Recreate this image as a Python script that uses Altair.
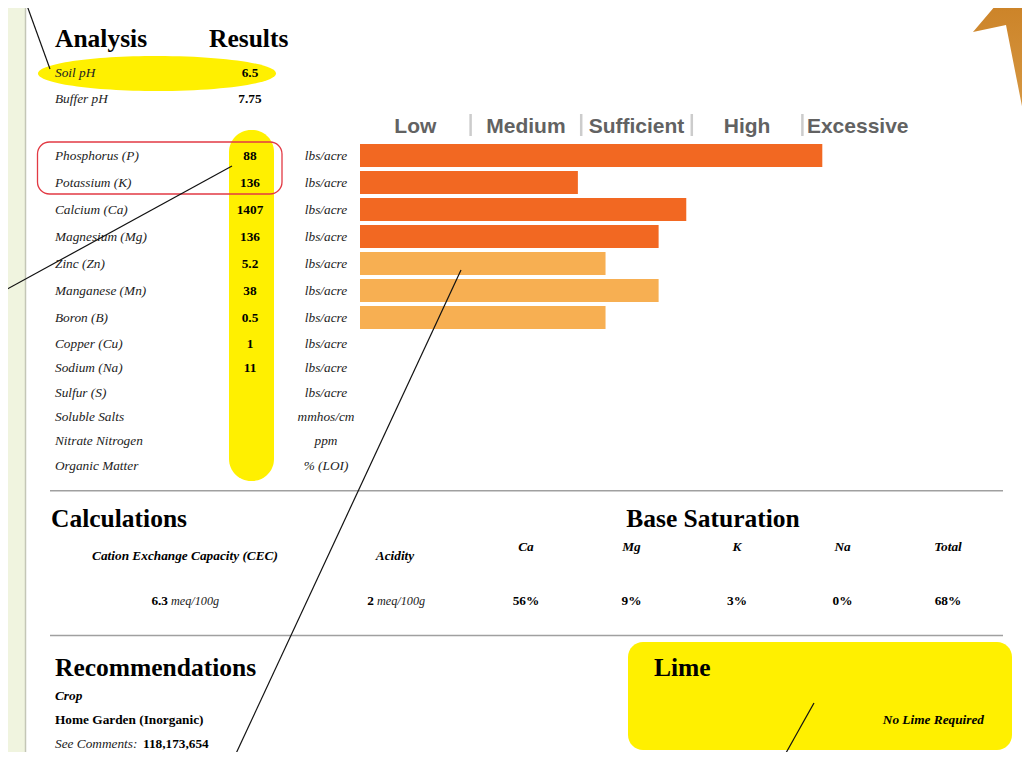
import altair as alt
import pandas as pd

# ---------------- data ----------------
ph_labels = ["Soil pH", "Buffer pH"]
ph_values = ["6.5", "7.75"]

nutrients = ["Phosphorus (P)", "Potassium (K)", "Calcium (Ca)", "Magnesium (Mg)",
             "Zinc (Zn)", "Manganese (Mn)", "Boron (B)", "Copper (Cu)", "Sodium (Na)",
             "Sulfur (S)", "Soluble Salts", "Nitrate Nitrogen", "Organic Matter"]
results = ["88", "136", "1407", "136", "5.2", "38", "0.5", "1", "11", "", "", "", ""]
units = ["lbs/acre"] * 10 + ["mmhos/cm", "ppm", "% (LOI)"]

# bar length measured in rating classes (0 = start of Low ... 5 = end of Excessive)
bar_nutrients = nutrients[:7]
ratings = [4.18, 1.97, 2.95, 2.70, 2.22, 2.70, 2.22]
rating_group = ["major", "major", "major", "major", "minor", "minor", "minor"]
levels = ["Low", "Medium", "Sufficient", "High", "Excessive"]

calc_labels = ["Cation Exchange Capacity (CEC)", "Acidity"]
calc_values = ["6.3", "2"]
calc_unit = "meq/100g"
bs_labels = ["Ca", "Mg", "K", "Na", "Total"]
bs_values = ["56%", "9%", "3%", "0%", "68%"]

crop_label = "Crop"
crop_name = "Home Garden (Inorganic)"
comments_label = "See Comments:"
comments = "118,173,654"
lime_result = "No Lime Required"

# ---------------- layout helpers ----------------
W, H = 1014, 744
OFF = 8          # page margin; chart coordinate = page coordinate - OFF
SERIF = "Liberation Serif"
SANS = "Liberation Sans"
YELLOW = "#FFF000"


def px(v):
    return v - OFF


one = pd.DataFrame({"k": [0]})


def label(s, x, y, size=13.3, weight="normal", style="normal", align="left",
          color="#111111", font=SERIF, baseline="alphabetic"):
    return alt.Chart(pd.DataFrame({"t": [s]})).mark_text(
        font=font, fontSize=size, fontWeight=weight, fontStyle=style,
        align=align, baseline=baseline, color=color
    ).encode(x=alt.value(px(x)), y=alt.value(px(y)), text="t:N")


def rule(x1, y1, x2, y2, color="#111111", width=1.2):
    return alt.Chart(one).mark_rule(color=color, strokeWidth=width).encode(
        x=alt.value(px(x1)), y=alt.value(px(y1)),
        x2=alt.value(px(x2)), y2=alt.value(px(y2)))


def box(x1, y1, x2, y2, fill="transparent", stroke=None, radius=0, sw=1.0):
    kw = dict(cornerRadius=radius, fill=fill)
    if stroke:
        kw.update(stroke=stroke, strokeWidth=sw)
    return alt.Chart(one).mark_rect(**kw).encode(
        x=alt.value(px(x1)), y=alt.value(px(y1)),
        x2=alt.value(px(x2)), y2=alt.value(px(y2)))


def symbol(path, cx, cy, half, fill):
    return alt.Chart(one).mark_point(
        shape=path, filled=True, opacity=1, fill=fill, strokeWidth=0,
        size=(2 * half) ** 2
    ).encode(x=alt.value(px(cx)), y=alt.value(px(cy)))


layers = []

# page frame (left strip)
layers.append(box(8, 8, 25, 760, fill="#F0F4DF"))
layers.append(rule(25.5, 8, 25.5, 760, color="#C4C6B6", width=1.5))

# ---------------- Analysis header ----------------
ell = ("M -1 0 C -1 -0.0812 -0.5523 -0.147 0 -0.147 C 0.5523 -0.147 1 -0.0812 1 0 "
       "C 1 0.0812 0.5523 0.147 0 0.147 C -0.5523 0.147 -1 0.0812 -1 0 Z")
layers.append(symbol(ell, 157, 73.5, 119, YELLOW))
layers.append(box(229, 130, 274, 481, fill=YELLOW, radius=22))
layers.append(box(628, 642, 1012, 750, fill=YELLOW, radius=15))

layers.append(label("Analysis", 55, 47, size=25.5, weight="bold", color="#000"))
layers.append(label("Results", 209, 47, size=25.5, weight="bold", color="#000"))

ph_df = pd.DataFrame({"a": ph_labels, "v": ph_values})
y_ph = alt.Scale(type="point", domain=ph_labels, range=[px(73), px(98.5)], padding=0)
layers.append(alt.Chart(ph_df).mark_text(font=SERIF, fontSize=13.3, fontStyle="italic",
                                         align="left", baseline="middle", color="#222").encode(
    x=alt.value(px(55)), y=alt.Y("a:N", scale=y_ph, axis=None), text="a:N"))
layers.append(alt.Chart(ph_df).mark_text(font=SERIF, fontSize=13.3, fontWeight="bold",
                                         align="center", baseline="middle", color="#000").encode(
    x=alt.value(px(250)), y=alt.Y("a:N", scale=y_ph, axis=None), text="v:N"))

# ---------------- nutrient table ----------------
nut_df = pd.DataFrame({"nutrient": nutrients, "result": results, "unit": units})
top_names = nutrients[:7]
bot_names = nutrients[7:]
y_top = alt.Scale(type="band", domain=top_names, range=[px(142), px(331)],
                  paddingInner=4 / 27, paddingOuter=2 / 27)
y_bot = alt.Scale(type="point", domain=bot_names, range=[px(343.7), px(465.7)], padding=0)

for names, ysc in ((top_names, y_top), (bot_names, y_bot)):
    base = alt.Chart(nut_df).transform_filter(
        alt.FieldOneOfPredicate(field="nutrient", oneOf=names))
    yenc = alt.Y("nutrient:N", scale=ysc, axis=None)
    layers.append(base.mark_text(font=SERIF, fontSize=13.3, fontStyle="italic", align="left",
                                 baseline="middle", color="#222").encode(
        x=alt.value(px(55)), y=yenc, text="nutrient:N"))
    layers.append(base.mark_text(font=SERIF, fontSize=13.3, fontWeight="bold", align="center",
                                 baseline="middle", color="#000").encode(
        x=alt.value(px(250)), y=yenc, text="result:N"))
    layers.append(base.mark_text(font=SERIF, fontSize=13.3, fontStyle="italic", align="center",
                                 baseline="middle", color="#222").encode(
        x=alt.value(px(326)), y=yenc, text="unit:N"))

layers.append(box(37.5, 142, 282, 194, stroke="#E23A44", radius=12, sw=1.3))

# rating scale header
x_scale = alt.Scale(domain=[0, 5], range=[px(360), px(913)], nice=False, zero=True)
lvl_df = pd.DataFrame({"level": levels})
lvl = alt.Chart(lvl_df).transform_window(idx="row_number()")
layers.append(lvl.transform_calculate(mid="datum.idx - 0.5").mark_text(
    font=SANS, fontSize=21, fontWeight="bold", color="#626262", align="center",
    baseline="alphabetic").encode(
    x=alt.X("mid:Q", scale=x_scale, axis=None), y=alt.value(px(133)), text="level:N"))
layers.append(lvl.transform_filter("datum.idx < 5").mark_rule(
    color="#CCCCCC", strokeWidth=2.5).encode(
    x=alt.X("idx:Q", scale=x_scale, axis=None), y=alt.value(px(114)), y2=alt.value(px(136))))

# bars
bar_df = pd.DataFrame({"nutrient": bar_nutrients, "rating": ratings, "group": rating_group})
layers.append(alt.Chart(bar_df).mark_bar().encode(
    x=alt.X("rating:Q", scale=x_scale, axis=None),
    y=alt.Y("nutrient:N", scale=y_top, axis=None),
    color=alt.Color("group:N", scale=alt.Scale(domain=["major", "minor"],
                                              range=["#F26822", "#F7AF52"]), legend=None)))

# ---------------- dividers ----------------
layers.append(rule(50, 490.7, 1003, 490.7, color="#A0A0A0", width=1.5))
layers.append(rule(50, 635.5, 1003, 635.5, color="#A0A0A0", width=1.5))

# ---------------- Calculations ----------------
layers.append(label("Calculations", 51, 527, size=25.5, weight="bold", color="#000"))
layers.append(label("Base Saturation", 713, 527, size=25.5, weight="bold", color="#000",
                    align="center"))
layers.append(label(calc_labels[0], 185, 560, weight="bold", style="italic", align="center",
                    color="#000"))
layers.append(label(calc_labels[1], 395, 560, weight="bold", style="italic", align="center",
                    color="#000"))
layers.append(label(calc_values[0], 168, 605, weight="bold", align="right", color="#000"))
layers.append(label(calc_unit, 171, 605, size=12.2, style="italic", color="#222"))
layers.append(label(calc_values[1], 374, 605, weight="bold", align="right", color="#000"))
layers.append(label(calc_unit, 377, 605, size=12.2, style="italic", color="#222"))
for i, (lab, val) in enumerate(zip(bs_labels, bs_values)):
    cx = 526 + i * 105.5
    layers.append(label(lab, cx, 551, weight="bold", style="italic", align="center",
                        color="#000"))
    layers.append(label(val, cx, 605, weight="bold", align="center", color="#000"))

# ---------------- Recommendations ----------------
layers.append(label("Recommendations", 55, 675.5, size=25.5, weight="bold", color="#000"))
layers.append(label(crop_label, 55, 700, weight="bold", style="italic", color="#000"))
layers.append(label(crop_name, 55, 724, weight="bold", color="#000"))
layers.append(label(comments_label, 55, 747.5, style="italic", color="#222"))
layers.append(label(comments, 143, 747.5, weight="bold", color="#000"))

# ---------------- Lime ----------------
layers.append(label("Lime", 654, 675.5, size=25.5, weight="bold", color="#000"))
layers.append(label(lime_result, 984, 724, weight="bold", style="italic", align="right",
                    color="#000"))

# ---------------- annotation strokes ----------------
layers.append(rule(25, 0, 50, 69))
layers.append(rule(232, 166, 0, 293))
layers.append(rule(461, 270, 233, 760))
layers.append(rule(814, 703, 782, 760))

arrow = "M -0.27 -0.43 L 0.07 -0.83 L 0.45 -0.83 L 0.45 1.48 L 0.06 -0.5 Z"
grad = alt.LinearGradient(gradient="linear", x1=0, x2=0, y1=0, y2=1, stops=[
    alt.GradientStop(color="#CB8125", offset=0),
    alt.GradientStop(color="#DBA250", offset=0.75),
    alt.GradientStop(color="#E2B46A", offset=1)])
layers.append(symbol(arrow, 1000, 75, 100, grad))

chart = alt.layer(*layers).properties(
    width=W, height=H, padding=0,
    autosize=alt.AutoSizeParams(type="none"), background="white"
).resolve_scale(y="independent").configure_view(stroke=None)

chart.save("out.html", embed_options={"renderer": "svg", "actions": False})
